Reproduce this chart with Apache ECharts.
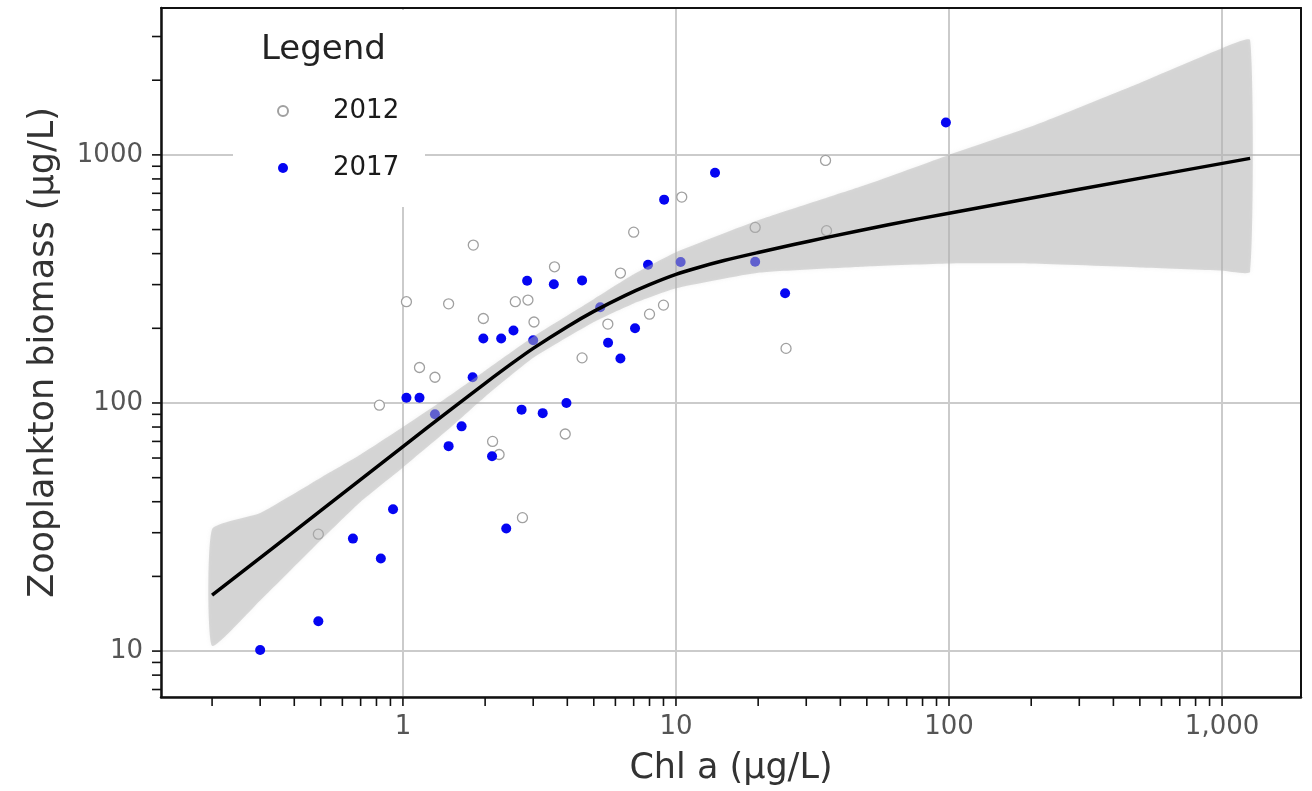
<!DOCTYPE html>
<html><head><meta charset="utf-8">
<script src="https://cdn.jsdelivr.net/npm/echarts@6/dist/echarts.min.js"></script>
<style>html,body{margin:0;padding:0;background:#fff}#chart{width:1312px;height:791px}</style>
</head><body><div id="chart"></div>
<script>
// ---- data ----
const chl2012 = [0.49, 0.82, 1.03, 1.15, 1.31, 1.47, 1.81, 1.97, 2.13, 2.25, 2.58, 2.87, 2.74, 3.02, 3.59, 3.93, 4.53, 5.63, 6.26, 7.0, 8.0, 9.0, 10.5, 19.5, 25.3, 35.3, 35.6];
const zoo2012 = [29.6, 98, 256, 139, 127, 251, 433, 219, 70, 62, 256, 260, 34.5, 212, 354, 75, 152, 208, 334, 488, 228, 248, 676, 510, 166, 950, 495];

const chl2017 = [0.30, 0.49, 0.656, 0.83, 0.92, 1.03, 1.15, 1.31, 1.47, 1.64, 1.80, 1.97, 2.29, 2.54, 3.0, 2.72, 3.25, 3.97, 2.12, 2.39, 2.85, 3.57, 4.53, 5.28, 5.64, 6.26, 7.08, 7.9, 9.05, 10.4, 13.9, 19.5, 25.1, 97.4];
const zoo2017 = [10.1, 13.2, 28.4, 23.6, 37.3, 105, 105, 90, 67, 80.5, 127, 182, 182, 196, 179, 94, 91, 100, 61, 31.2, 311, 301, 312, 243, 175, 151, 200, 361, 660, 370, 847, 371, 277, 1350];

const fitChl = [0.2, 0.5, 1, 1.5, 2, 2.5, 3, 4, 5, 6.5, 8, 10, 12, 15, 20, 27, 35, 60, 100, 300, 1267];
const fitZoo = [16.8, 36.8, 66.7, 94.3, 120, 144, 166, 203, 234, 271, 300, 330, 351, 375, 404, 435, 463, 523, 582, 727, 968];

const bandChl  = [0.2, 0.3, 0.5, 0.7, 1, 1.5, 2, 3, 5, 7, 10, 20, 50, 100, 200, 500, 1000, 1267];
const bandLow  = [10.5, 16, 28, 40, 55, 80, 106, 152, 212, 252, 290, 335, 355, 365, 365, 352, 342, 338];
const bandHigh = [31, 36, 50, 62, 80, 108, 135, 185, 262, 330, 405, 545, 760, 1000, 1300, 1950, 2690, 2900];

const xTickValues = [0.2, 0.3, 0.4, 0.5, 0.6, 0.7, 0.8, 0.9, 1, 2, 3, 4, 5, 6, 7, 8, 9, 10, 20, 30, 40, 50, 60, 70, 80, 90, 100, 200, 300, 400, 500, 600, 700, 800, 900, 1000];
const yTickValues = [7, 8, 9, 10, 20, 30, 40, 50, 60, 70, 80, 90, 100, 200, 300, 400, 500, 600, 700, 800, 900, 1000, 2000, 3000];
const xTickLabels = {1: '1', 10: '10', 100: '100', 1000: '1,000'};
const yTickLabels = {10: '10', 100: '100', 1000: '1000'};

const X_MIN = 0.13, X_MAX = 1946, Y_MIN = 6.53, Y_MAX = 3909;
const FONT = 'DejaVu Sans';

const chart = echarts.init(document.getElementById('chart'), null, {renderer: 'canvas'});

function labelFor(map, v) {
  const r = Math.round(v);
  if (Math.abs(v - r) < 1e-6 * Math.max(1, v) && map[r] !== undefined) return map[r];
  return '';
}

const frameAxis = {
  axisLine: {show: true, onZero: false, lineStyle: {color: '#111', width: 2}},
  axisTick: {show: false}, axisLabel: {show: false}, splitLine: {show: false}
};

const option = {
  animation: false,
  backgroundColor: '#fff',
  title: {
    text: 'Legend', left: 256, top: 28,
    textStyle: {fontFamily: FONT, fontSize: 34, fontWeight: 'normal', color: '#222'}
  },
  legend: {
    data: ['2012', '2017'],
    orient: 'vertical', left: 272, top: 93,
    itemWidth: 20, itemHeight: 10, itemGap: 31,
    textStyle: {fontFamily: FONT, fontSize: 26, color: '#1a1a1a', padding: [0, 0, 0, 35]}
  },
  graphic: [{
    type: 'rect', left: 233, top: 10, z: 1, silent: true,
    shape: {width: 192, height: 197},
    style: {fill: '#fff'}
  }],
  grid: {left: 161, right: 11, top: 8, bottom: 93},
  xAxis: [{
    type: 'log', logBase: 10, min: X_MIN, max: X_MAX,
    name: 'Chl a (µg/L)', nameLocation: 'middle', nameGap: 54,
    nameTextStyle: {fontFamily: FONT, fontSize: 35, color: '#333'},
    axisLine: {show: true, onZero: false, lineStyle: {color: '#111', width: 2.5}},
    axisTick: {show: false},
    axisLabel: {margin: 17, fontFamily: FONT, fontSize: 26, color: '#555', showMinLabel: false, showMaxLabel: false,
      formatter: v => labelFor(xTickLabels, v)},
    splitLine: {show: true, lineStyle: {color: '#cbcbcb', width: 2}}
  }, Object.assign({type: 'log', logBase: 10, min: X_MIN, max: X_MAX, position: 'top'}, frameAxis)],
  yAxis: [{
    type: 'log', logBase: 10, min: Y_MIN, max: Y_MAX,
    name: 'Zooplankton biomass (µg/L)', nameLocation: 'middle', nameGap: 100,
    nameTextStyle: {fontFamily: FONT, fontSize: 35, color: '#333'},
    axisLine: {show: true, onZero: false, lineStyle: {color: '#111', width: 2.5}},
    axisTick: {show: false},
    axisLabel: {margin: 18, fontFamily: FONT, fontSize: 26, color: '#555', showMinLabel: false, showMaxLabel: false,
      formatter: v => labelFor(yTickLabels, v)},
    splitLine: {show: true, lineStyle: {color: '#cbcbcb', width: 2}}
  }, Object.assign({type: 'log', logBase: 10, min: Y_MIN, max: Y_MAX, position: 'right'}, frameAxis)],
  series: [
    {
      name: '2012', type: 'scatter', z: 2,
      symbol: 'circle', symbolSize: 10,
      itemStyle: {color: '#ffffff', borderColor: '#a0a0a0', borderWidth: 1.3, opacity: 1},
      data: chl2012.map((x, i) => [x, zoo2012[i]])
    },
    {
      name: '2017', type: 'scatter', z: 2,
      symbol: 'circle', symbolSize: 10,
      itemStyle: {color: '#0505f2', opacity: 1},
      data: chl2017.map((x, i) => [x, zoo2017[i]])
    },
    {
      name: 'band', type: 'custom', z: 3, silent: true,
      data: bandChl.map((x, i) => [x, bandLow[i], bandHigh[i]]),
      renderItem(params, api) {
        if (params.dataIndex !== 0) return null;
        const pts = [];
        for (let i = 0; i < bandChl.length; i++) pts.push(api.coord([bandChl[i], bandHigh[i]]));
        for (let i = bandChl.length - 1; i >= 0; i--) pts.push(api.coord([bandChl[i], bandLow[i]]));
        return {type: 'polygon', shape: {points: pts, smooth: 0.15},
          style: {fill: 'rgba(175,175,175,0.45)', shadowBlur: 4, shadowColor: 'rgba(175,175,175,0.35)'}};
      }
    },
    {
      name: 'fit', type: 'line', z: 4, silent: true,
      showSymbol: false, smooth: 0.3,
      lineStyle: {color: '#000', width: 3.5},
      data: fitChl.map((x, i) => [x, fitZoo[i]])
    },
    {
      name: 'xticks', type: 'custom', silent: true, clip: false, z: 5,
      data: xTickValues.map(v => [v, Y_MIN]),
      renderItem(params, api) {
        const p = api.coord([api.value(0), Y_MIN]);
        return {type: 'line', shape: {x1: p[0], y1: p[1], x2: p[0], y2: p[1] + 9},
          style: {stroke: '#111', lineWidth: 1.6}};
      }
    },
    {
      name: 'yticks', type: 'custom', silent: true, clip: false, z: 5,
      data: yTickValues.map(v => [X_MIN, v]),
      renderItem(params, api) {
        const p = api.coord([X_MIN, api.value(1)]);
        return {type: 'line', shape: {x1: p[0], y1: p[1], x2: p[0] - 9, y2: p[1]},
          style: {stroke: '#111', lineWidth: 1.6}};
      }
    }
  ]
};
chart.setOption(option);
</script>
</body></html>
